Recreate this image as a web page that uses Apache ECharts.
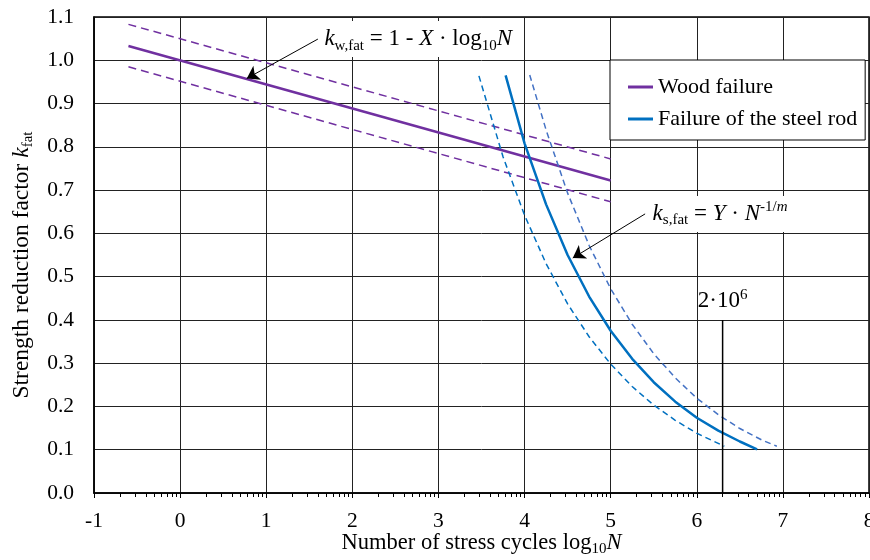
<!DOCTYPE html>
<html>
<head>
<meta charset="utf-8">
<title>Strength reduction factor</title>
<script src="https://cdn.jsdelivr.net/npm/echarts@6/dist/echarts.min.js"></script>
<style>
  html, body { margin: 0; padding: 0; background: #fff; }
  #chart { width: 870px; height: 560px; }
</style>
</head>
<body>
<div id="chart"></div>
<script>
// wood failure: k = 1 - X*log10 N, with scatter band
const woodX = [-0.6, 5];
const woodY = [1.033, 0.722];
const woodUpperY = [1.083, 0.772];
const woodLowerY = [0.985, 0.673];

// steel rod failure: k = Y*N^(-1/m)
const steelX = [3.78, 4.0, 4.25, 4.5, 4.75, 5.0, 5.25, 5.5, 5.75, 6.0, 6.25, 6.5, 6.7];
const steelY = [0.965, 0.808, 0.667, 0.550, 0.454, 0.375, 0.310, 0.256, 0.211, 0.174, 0.144, 0.119, 0.101];
const steelUpperX = [4.06, 4.25, 4.5, 4.75, 5.0, 5.25, 5.5, 5.75, 6.0, 6.25, 6.5, 6.75, 6.93];
const steelUpperY = [0.966, 0.839, 0.693, 0.572, 0.472, 0.390, 0.322, 0.266, 0.219, 0.181, 0.149, 0.123, 0.108];
const steelLowerX = [3.47, 3.75, 4.0, 4.25, 4.5, 4.75, 5.0, 5.25, 5.5, 5.75, 6.0, 6.32];
const steelLowerY = [0.964, 0.777, 0.642, 0.530, 0.437, 0.361, 0.298, 0.246, 0.203, 0.168, 0.138, 0.108];

// 2·10^6 cycles marker
const refX = [6.3, 6.3];
const refY = [0, 0.4];

// arrows [from, to]
const arrowWood = [[1.6, 1.049], [0.774, 0.958]];
const arrowSteel = [[5.4, 0.645], [4.56, 0.543]];

// log minor ticks inside each decade
const decades = [-1, 0, 1, 2, 3, 4, 5, 6, 7];
const minorOffsets = [0.301, 0.477, 0.602, 0.699, 0.778, 0.845, 0.903, 0.954];

const serif = "'Liberation Serif', 'Times New Roman', serif";
const pairs = (xs, ys) => xs.map((x, i) => [x, ys[i]]);

let minorTicks = [];
decades.forEach(d => minorOffsets.forEach(o => minorTicks.push(+(d + o).toFixed(3))));

const rich = {
  n: { fontFamily: serif, fontSize: 23, lineHeight: 28, color: '#000' },
  i: { fontFamily: serif, fontSize: 23, lineHeight: 28, fontStyle: 'italic', color: '#000' },
  sub: { fontFamily: serif, fontSize: 15, lineHeight: 14, verticalAlign: 'bottom', color: '#000' },
  sup: { fontFamily: serif, fontSize: 15, lineHeight: 18, verticalAlign: 'top', color: '#000' },
  supi: { fontFamily: serif, fontSize: 15, lineHeight: 18, verticalAlign: 'top', fontStyle: 'italic', color: '#000' }
};
const xNameRich = {
  n: { fontFamily: serif, fontSize: 22.5, lineHeight: 28, color: '#000' },
  i: { fontFamily: serif, fontSize: 22.5, lineHeight: 28, fontStyle: 'italic', color: '#000' },
  sub: { fontFamily: serif, fontSize: 15, lineHeight: 14, verticalAlign: 'bottom', color: '#000' }
};
const yNameRich = {
  n: { fontFamily: serif, fontSize: 23.5, lineHeight: 28, color: '#000' },
  i: { fontFamily: serif, fontSize: 23.5, lineHeight: 28, fontStyle: 'italic', color: '#000' },
  sub: { fontFamily: serif, fontSize: 15, lineHeight: 14, verticalAlign: 'bottom', color: '#000' }
};

const chart = echarts.init(document.getElementById('chart'), null, { renderer: 'canvas' });

const lineBase = { type: 'line', symbol: 'none', silent: true, z: 3 };

chart.setOption({
  animation: false,
  backgroundColor: '#fff',
  grid: {
    left: 94, right: 1, top: 17, bottom: 67,
    outerBoundsMode: 'none', containLabel: false,
    show: true, borderColor: '#000', borderWidth: 1.5
  },
  legend: {
    data: ['Wood failure', 'Failure of the steel rod'],
    orient: 'vertical', left: 610, top: 60,
    backgroundColor: '#fff', borderColor: '#000', borderWidth: 1,
    padding: [16, 8, 10, 18], itemGap: 10,
    itemWidth: 25, itemHeight: 3, icon: 'rect',
    selectedMode: false,
    textStyle: { fontFamily: serif, fontSize: 22, color: '#000' }
  },
  xAxis: [
    {
      type: 'value', min: -1, max: 8, interval: 1,
      axisLine: { onZero: false, lineStyle: { color: '#000', width: 1.5 } },
      axisTick: { show: true, length: 5, lineStyle: { color: '#000' } },
      axisLabel: { fontFamily: serif, fontSize: 21.5, color: '#000', margin: 17 },
      splitLine: { show: true, lineStyle: { color: '#222', width: 1 } },
      name: '{n|Number of stress cycles log}{sub|10}{i|N}',
      nameLocation: 'middle', nameGap: 36, nameMoveOverlap: false,
      nameTextStyle: { rich: xNameRich }
    },
    {
      type: 'value', min: -1, max: 8, position: 'bottom',
      axisLine: { show: false, onZero: false },
      axisLabel: { show: false },
      splitLine: { show: false },
      axisTick: { show: true, length: 4, customValues: minorTicks, lineStyle: { color: '#000' } }
    }
  ],
  yAxis: {
    type: 'value', min: 0, max: 1.1, interval: 0.1,
    axisLine: { show: true, onZero: false, lineStyle: { color: '#000', width: 1.5 } },
    axisTick: { show: false },
    axisLabel: { fontFamily: serif, fontSize: 21.5, color: '#000', margin: 20,
      formatter: v => v.toFixed(1) },
    splitLine: { show: true, lineStyle: { color: '#222', width: 1 } },
    name: '{n|Strength reduction factor }{i|k}{sub|fat}',
    nameLocation: 'middle', nameGap: 58, nameRotate: 90,
    nameTextStyle: { rich: yNameRich, padding: [0, 20, 0, 0] }
  },
  series: [
    Object.assign({}, lineBase, {
      name: 'Wood failure', color: '#7030A0',
      data: pairs(woodX, woodY),
      lineStyle: { width: 2.5 },
      markLine: {
        silent: true, symbol: ['none', 'arrow'], symbolSize: 12,
        label: { show: false },
        lineStyle: { color: '#000', width: 1, type: 'solid' },
        data: [
          [{ coord: arrowWood[0] }, { coord: arrowWood[1] }],
          [{ coord: arrowSteel[0] }, { coord: arrowSteel[1] }]
        ]
      },
      markPoint: {
        silent: true, symbol: 'rect', symbolSize: 1,
        itemStyle: { color: 'rgba(0,0,0,0)' },
        label: { show: true, color: '#000', rich: rich },
        data: [
          { coord: arrowWood[0], label: { position: 'right', distance: 1,
            backgroundColor: '#fff', padding: [4, 8, 4, 5],
            formatter: '{i|k}{sub|w,fat}{n| = 1 - }{i|X}{n| · log}{sub|10}{i|N}' } },
          { coord: arrowSteel[0], label: { position: 'right', distance: 1,
            backgroundColor: '#fff', padding: [4, 8, 4, 6],
            formatter: '{i|k}{sub|s,fat}{n| = }{i|Y}{n| · }{i|N}{sup|-1/}{supi|m}' } }
        ]
      }
    }),
    Object.assign({}, lineBase, {
      name: 'wood upper', color: '#7030A0',
      data: pairs(woodX, woodUpperY),
      lineStyle: { width: 1.5, type: [8, 5] }
    }),
    Object.assign({}, lineBase, {
      name: 'wood lower', color: '#7030A0',
      data: pairs(woodX, woodLowerY),
      lineStyle: { width: 1.5, type: [8, 5] }
    }),
    Object.assign({}, lineBase, {
      name: 'Failure of the steel rod', color: '#0070C0',
      data: pairs(steelX, steelY),
      lineStyle: { width: 2.5 }
    }),
    Object.assign({}, lineBase, {
      name: 'steel upper', color: '#4472C4',
      data: pairs(steelUpperX, steelUpperY),
      lineStyle: { width: 1.5, type: [6, 4] }
    }),
    Object.assign({}, lineBase, {
      name: 'steel lower', color: '#0070C0',
      data: pairs(steelLowerX, steelLowerY),
      lineStyle: { width: 1.5, type: [6, 4] }
    }),
    Object.assign({}, lineBase, {
      name: '2·10^6', color: '#000',
      data: pairs(refX, refY),
      lineStyle: { width: 1.5 },
      markPoint: {
        silent: true, symbol: 'rect', symbolSize: 1,
        itemStyle: { color: 'rgba(0,0,0,0)' },
        label: { show: true, color: '#000', rich: rich },
        data: [
          { coord: [refX[1], refY[1]], label: { position: 'top', distance: 4,
            formatter: '{n|2·10}{sup|6}' } }
        ]
      }
    })
  ]
});
</script>
</body>
</html>
